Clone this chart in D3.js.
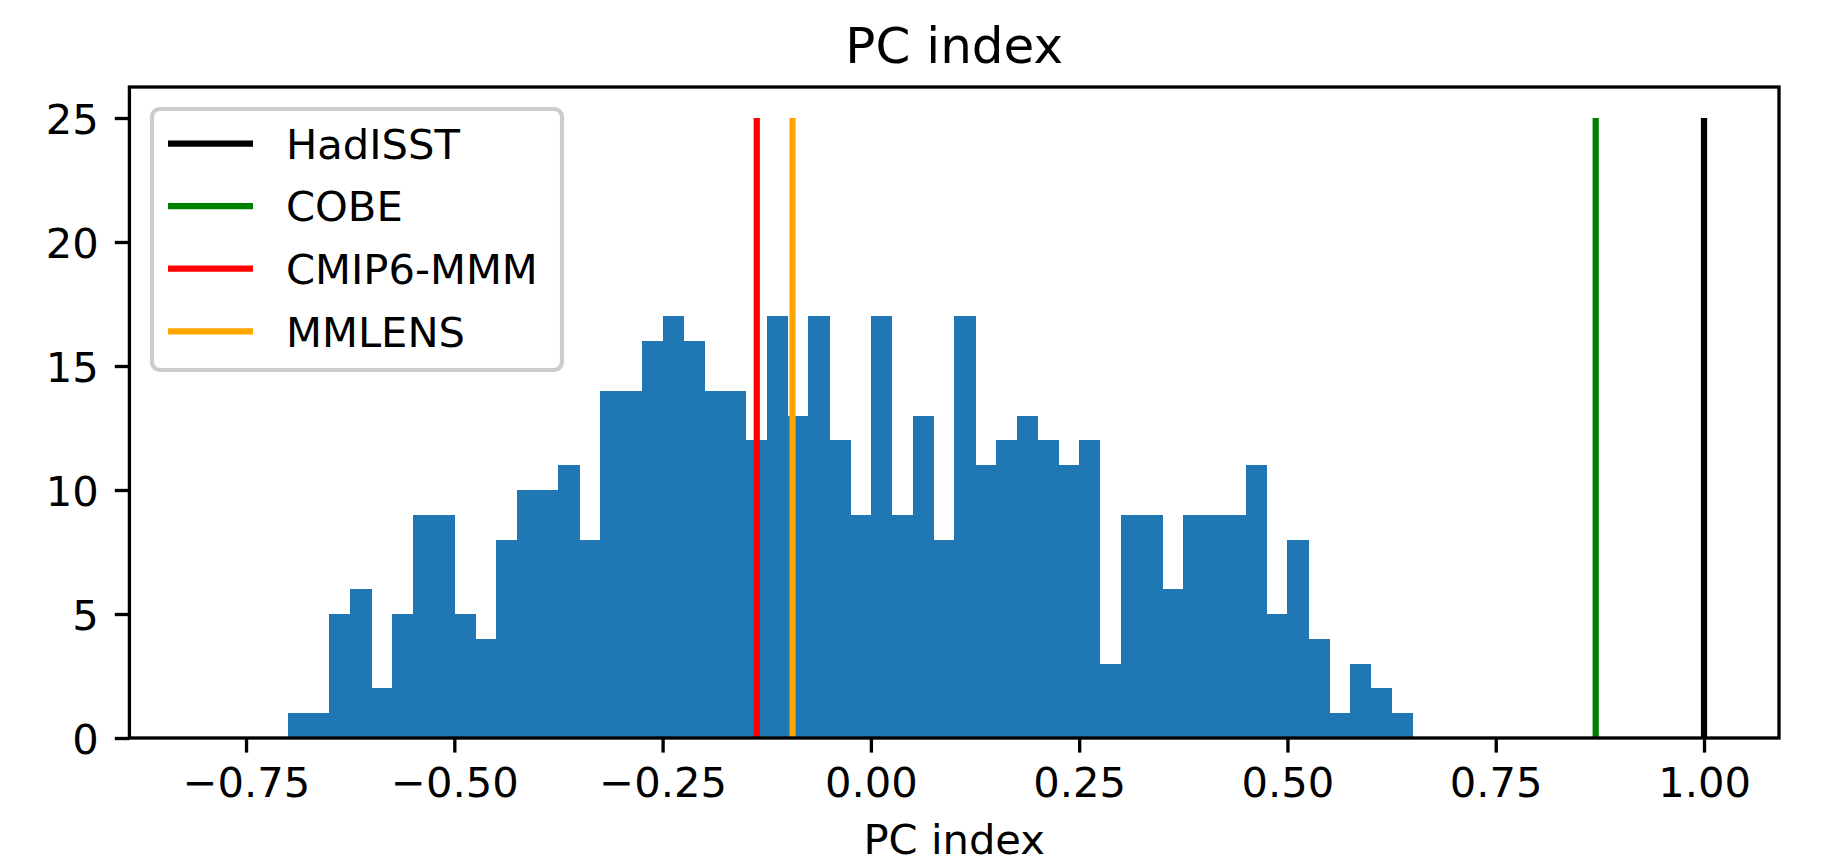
<!DOCTYPE html>
<html>
<head>
<meta charset="utf-8">
<script src="https://cdn.jsdelivr.net/npm/d3@7"></script>
<style>
  body { margin: 0; background: #fff; }
  text { font-family: "DejaVu Sans", sans-serif; fill: #000; }
</style>
</head>
<body>
<svg id="chart"></svg>
<script>
// histogram counts, bins of 0.025 starting at -0.8
const binStart = -0.8;
const binWidth = 0.025;
const counts = [
  0, 0, 0, 0,
  1, 1, 5, 6, 2, 5, 9, 9, 5, 4,
  8, 10, 10, 11, 8, 14, 14, 16, 17, 16,
  14, 14, 12, 17, 13, 17, 12, 9, 17, 9,
  13, 8, 17, 11, 12, 13, 12, 11, 12, 3,
  9, 9, 6, 9, 9, 9, 11, 5, 8, 4,
  1, 3, 2, 1
];

// reference lines
const refNames = ["HadISST", "COBE", "CMIP6-MMM", "MMLENS"];
const refValues = [1.00, 0.87, -0.137, -0.094];
const refColors = ["#000000", "#008000", "#ff0000", "#ffa500"];
const lineTop = 25;

const xTicks = [-0.75, -0.5, -0.25, 0, 0.25, 0.5, 0.75, 1.0];
const yTicks = [0, 5, 10, 15, 20, 25];

const width = 1845;
const height = 862;
const fs = 41.67; // 10pt @ 300dpi
const lw = 3.33;

const svg = d3.select("#chart")
  .attr("width", width)
  .attr("height", height);

const axL = 129.4, axR = 1779, axT = 87, axB = 738;

const bins = counts.map((c, i) => ({
  x0: binStart + i * binWidth,
  x1: binStart + (i + 1) * binWidth,
  n: c
}));

// matplotlib style 5% margins
const xmin = d3.min(bins, d => d.x0);
const xmax = d3.max(refValues);
const xpad = 0.05 * (xmax - xmin);
const x = d3.scaleLinear()
  .domain([xmin - xpad, xmax + xpad])
  .range([axL, axR]);

const y = d3.scaleLinear()
  .domain([0, lineTop * 1.05])
  .range([axB, axT]);

// bars
svg.append("g")
  .attr("shape-rendering", "crispEdges")
  .selectAll("rect")
  .data(bins.filter(d => d.n > 0))
  .enter()
  .append("rect")
  .attr("x", d => x(d.x0))
  .attr("width", d => x(d.x1) - x(d.x0) + 0.5)
  .attr("y", d => y(d.n))
  .attr("height", d => y(0) - y(d.n))
  .attr("fill", "#1f77b4");

// vertical lines
svg.append("g")
  .selectAll("line")
  .data(refValues)
  .enter()
  .append("line")
  .attr("x1", d => x(d))
  .attr("x2", d => x(d))
  .attr("y1", y(0))
  .attr("y2", y(lineTop))
  .attr("stroke", (d, i) => refColors[i])
  .attr("stroke-width", 6.25);

// axes
const xAxis = svg.append("g")
  .attr("transform", `translate(0,${axB})`)
  .call(d3.axisBottom(x)
    .tickValues(xTicks)
    .tickFormat(d3.format(".2f"))
    .tickSize(14.6)
    .tickSizeOuter(0)
    .tickPadding(15.3));

const yAxis = svg.append("g")
  .attr("transform", `translate(${axL},0)`)
  .call(d3.axisLeft(y)
    .tickValues(yTicks)
    .tickSize(14.6)
    .tickSizeOuter(0)
    .tickPadding(16));

[xAxis, yAxis].forEach(a => {
  a.select(".domain").remove();
  a.selectAll(".tick line").attr("stroke", "#000").attr("stroke-width", lw);
  a.selectAll(".tick text")
    .style("font-size", fs + "px")
    .style("font-family", "DejaVu Sans");
});
yAxis.selectAll(".tick text").attr("dy", "0.36em");

// frame
svg.append("rect")
  .attr("x", axL)
  .attr("y", axT)
  .attr("width", axR - axL)
  .attr("height", axB - axT)
  .attr("fill", "none")
  .attr("stroke", "#000")
  .attr("stroke-width", lw);

// title + x label
svg.append("text")
  .attr("x", (axL + axR) / 2)
  .attr("y", 63)
  .attr("text-anchor", "middle")
  .style("font-size", "50px")
  .text("PC index");

svg.append("text")
  .attr("x", (axL + axR) / 2)
  .attr("y", 854)
  .attr("text-anchor", "middle")
  .style("font-size", fs + "px")
  .text("PC index");

// legend
const legend = svg.append("g");
legend.append("rect")
  .attr("x", 152)
  .attr("y", 109)
  .attr("width", 410)
  .attr("height", 261)
  .attr("rx", 8)
  .attr("fill", "#fff")
  .attr("fill-opacity", 0.8)
  .attr("stroke", "#cccccc")
  .attr("stroke-width", 4.17);

const rows = legend.selectAll("g.row")
  .data(refNames)
  .enter()
  .append("g")
  .attr("class", "row")
  .attr("transform", (d, i) => `translate(0,${143.5 + i * 62.6})`);

rows.append("line")
  .attr("x1", 168)
  .attr("x2", 253)
  .attr("stroke", (d, i) => refColors[i])
  .attr("stroke-width", 6.25);

rows.append("text")
  .attr("x", 286)
  .attr("y", 15.2)
  .style("font-size", fs + "px")
  .text(d => d);
</script>
</body>
</html>
